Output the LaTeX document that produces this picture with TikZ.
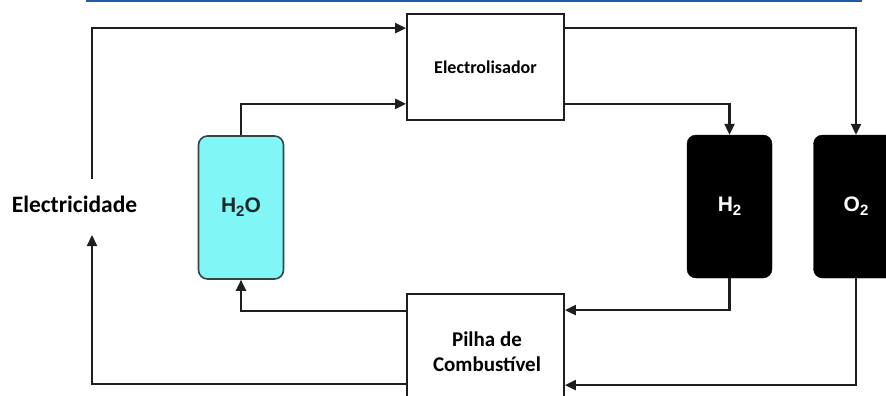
\documentclass[tikz,border=0pt]{standalone}
\usepackage{fontspec}
\setmainfont{Carlito}
\newfontfamily\arialf{Liberation Sans}
\usetikzlibrary{arrows.meta,calc}
\definecolor{linec}{HTML}{1E1E1E}
\definecolor{topblue}{HTML}{1F5BAA}
\definecolor{watercyan}{HTML}{80F6F6}
\definecolor{waterborder}{HTML}{354545}
\definecolor{watertext}{HTML}{1A2A2A}
\tikzset{
  flowline/.style={draw=linec, line width=2.2pt, -{Triangle[length=11pt,width=10pt]}},
  plainbox/.style={draw=linec, line width=1.8pt, fill=white, rectangle, inner sep=0pt},
  tank/.style={rectangle, rounded corners=9pt, inner sep=0pt, minimum width=85pt, minimum height=143pt},
  boldlabel/.style={font=\bfseries, text=black, align=center},
  tanktext/.style={font=\arialf\fontsize{21}{24}\selectfont\bfseries},
}
\newcommand{\subtwo}{\raisebox{-4pt}{\fontsize{15}{15}\selectfont 2}}
\begin{document}
\begin{tikzpicture}[x=1pt,y=1pt]
\useasboundingbox (0,0) rectangle (886,-396);
\clip (0,0) rectangle (886,-396);
\fill[white] (0,0) rectangle (886,-396);
% top blue rule
\draw[topblue, line width=2.4pt] (86,-1) -- (862,-1);
% boxes
\node[plainbox, minimum width=157pt, minimum height=106pt, boldlabel, font=\fontsize{18}{22}\selectfont\bfseries] (elec) at (485.5,-67) {Electrolisador};
\node[plainbox, minimum width=157pt, minimum height=112pt] (pilha) at (485.5,-350) {};
\node[boldlabel, font=\fontsize{21}{25}\selectfont\bfseries] (pilhatxt) at (487,-352) {Pilha de\\Combustível};
\node[tank, fill=watercyan, draw=waterborder, line width=1.6pt, tanktext, text=watertext] (h2o) at (241,-207.5) {H\subtwo O};
\node[tank, fill=black, draw=black, tanktext, text=white] (h2) at (729.5,-206.5) {H\subtwo};
\node[tank, fill=black, draw=black, tanktext, text=white] (o2) at (856,-206.5) {O\subtwo};
\node[boldlabel, font=\fontsize{23.5}{28}\selectfont\bfseries] (elect) at (74.5,-204) {Electricidade};
\coordinate (eup) at (92,-179);
\coordinate (edown) at (92,-235);
% connectors
\draw[flowline] (eup) |- ([yshift=-15pt]elec.north west);
\draw[flowline] (h2o.north) |- ([yshift=17pt]elec.south west);
\draw[flowline] ([yshift=-15pt]elec.north east) -| (o2.north);
\draw[flowline] ([yshift=17pt]elec.south east) -| (h2.north);
\draw[flowline] (h2.south) |- ([yshift=-17pt]pilha.north east);
\draw[flowline] (o2.south) |- ([yshift=-92pt]pilha.north east);
\draw[flowline] ([yshift=-18pt]pilha.north west) -| (h2o.south);
\draw[flowline] ([yshift=-91pt]pilha.north west) -| (edown);
\end{tikzpicture}
\end{document}
